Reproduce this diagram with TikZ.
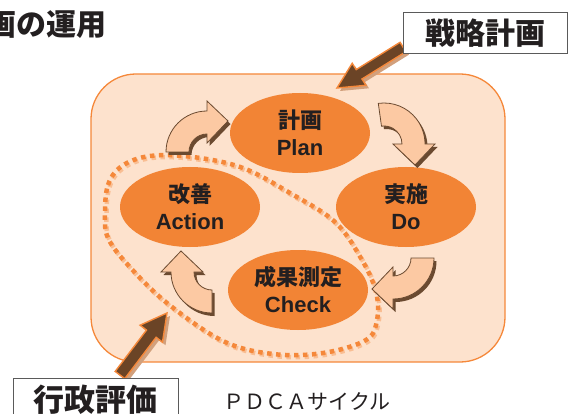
\documentclass[tikz,border=0pt]{standalone}
\usepackage{fontspec}
\setmainfont{Liberation Sans}
\newfontfamily\jp{Noto Sans CJK JP}
\usetikzlibrary{shapes.geometric}
\definecolor{bgpeach}{HTML}{FDE2CD}
\definecolor{rimorange}{HTML}{F5883A}
\definecolor{ellorange}{HTML}{F28435}
\definecolor{txtdark}{HTML}{231F20}
\definecolor{arrlight}{HTML}{FCC9A3}
\definecolor{arrbrown}{HTML}{6B4A30}
\definecolor{bigbrown}{HTML}{6B4426}
\definecolor{bigshadow}{HTML}{D2A07C}
\definecolor{dotshadow}{HTML}{F9BE93}
\definecolor{boxgray}{HTML}{5A5A5A}
% curved block arrow around the origin: tail at angle #1, head at angle #2
\newcommand\cyclearrowshape[2]{(#1:41) arc[start angle=#1, end angle=#2, radius=41]
  -- (#2:51) -- ([shift={(#2:31)}]#2+90:21) -- (#2:9) -- (#2:18)
  arc[start angle=#2, end angle=#1, radius=18] -- cycle}
\tikzset{
  phase/.style={ellipse, fill=ellorange, minimum width=140pt, minimum height=80pt,
    inner sep=0pt, align=center, text=txtdark, font=\bfseries\fontsize{22}{27}\selectfont},
  cashadow/.style={fill=arrbrown},
  cabody/.style={fill=arrlight, draw=arrbrown, line width=0.8pt, line join=miter},
  bigbody/.style={fill=bigbrown, draw=rimorange, line width=1.4pt, line join=miter},
  bigshade/.style={fill=bigshadow},
  dotloop/.style={draw=rimorange, line width=4.5pt, dash pattern=on 4.5pt off 4.5pt},
  dotshade/.style={draw=dotshadow, line width=4.5pt, dash pattern=on 4.5pt off 4.5pt},
  labelbox/.style={draw=boxgray, fill=white, line width=1pt, inner sep=0pt, text=txtdark,
    font=\jp\bfseries\fontsize{30}{30}\selectfont},
}
\begin{document}
\begin{tikzpicture}[x=1pt,y=-1pt]
\useasboundingbox (0,0) rectangle (570,414);
\clip (0,0) rectangle (570,414);
% title (cut at left edge)
\node[anchor=east, inner sep=0pt, text=txtdark, font=\jp\bfseries\fontsize{30}{30}\selectfont] (title) at (107,25) {画の運用};
% background panel
\draw[rimorange, fill=bgpeach, line width=1.3pt, rounded corners=45pt] (91,74) rectangle (505,362);
% phases
\node[phase] (plan) at (300,133) {{\jp\fontsize{22}{27}\selectfont 計画}\\Plan};
\node[phase] (do) at (406,207) {{\jp\fontsize{22}{27}\selectfont 実施}\\Do};
\node[phase] (action) at (190,207) {{\jp\fontsize{22}{27}\selectfont 改善}\\Action};
\node[phase] (check) at (298,290) {{\jp\fontsize{22}{27}\selectfont 成果測定}\\Check};
% dotted loop
\draw[dotshade, shift={(1.5,2)}] plot[smooth cycle, tension=0.6] coordinates {(105,215) (108,185) (122,166) (150,156) (193,157) (243,168) (290,193) (335,222) (362,260) (376,292) (377,320) (366,340) (323,353) (273,354) (223,341) (167,303) (128,265) (108,238)};
\draw[dotloop] plot[smooth cycle, tension=0.6] coordinates {(105,215) (108,185) (122,166) (150,156) (193,157) (243,168) (290,193) (335,222) (362,260) (376,292) (377,320) (366,340) (323,353) (273,354) (223,341) (167,303) (128,265) (108,238)};
% curved cycle arrows
\begin{scope}[shift={(207,152)}]
  \fill[cashadow, shift={(2.5,3)}] \cyclearrowshape{180}{270};
  \filldraw[cabody] \cyclearrowshape{180}{270};
\end{scope}
\begin{scope}[shift={(384,144)}]
  \fill[cashadow, shift={(2.5,3)}] \cyclearrowshape{262}{360};
  \filldraw[cabody] \cyclearrowshape{262}{360};
\end{scope}
\begin{scope}[shift={(393,258)}]
  \fill[cashadow, shift={(2.5,3)}] \cyclearrowshape{0}{90};
  \filldraw[cabody] \cyclearrowshape{0}{90};
\end{scope}
\begin{scope}[shift={(212,272)}]
  \fill[cashadow, shift={(2.5,3)}] \cyclearrowshape{90}{180};
  \filldraw[cabody] \cyclearrowshape{90}{180};
\end{scope}
% big arrows
\fill[bigshade, shift={(3,3)}] (400.1,42.3) -- (356.2,69.6) -- (352.2,63.3) -- (337,88) -- (366.0,85.3) -- (362.0,79.0) -- (405.9,51.7) -- cycle;
\filldraw[bigbody] (400.1,42.3) -- (356.2,69.6) -- (352.2,63.3) -- (337,88) -- (366.0,85.3) -- (362.0,79.0) -- (405.9,51.7) -- cycle;
\fill[bigshade, shift={(3,3)}] (115.2,371.4) -- (146.5,330.1) -- (140.1,325.2) -- (167,313) -- (162.5,342.2) -- (156.1,337.3) -- (124.8,378.6) -- cycle;
\filldraw[bigbody] (115.2,371.4) -- (146.5,330.1) -- (140.1,325.2) -- (167,313) -- (162.5,342.2) -- (156.1,337.3) -- (124.8,378.6) -- cycle;
% label boxes
\node[labelbox, minimum width=164pt, minimum height=41pt] (strategy) at (485,33.5) {戦略計画};
\node[labelbox, minimum width=165pt, minimum height=44pt, font=\jp\bfseries\fontsize{31}{31}\selectfont] (evaluation) at (95.5,400) {行政評価};
\node[inner sep=0pt, text=txtdark, font=\jp\fontsize{21}{21}\selectfont] (pdca) at (307,402) {ＰＤＣＡサイクル};
\end{tikzpicture}
\end{document}
